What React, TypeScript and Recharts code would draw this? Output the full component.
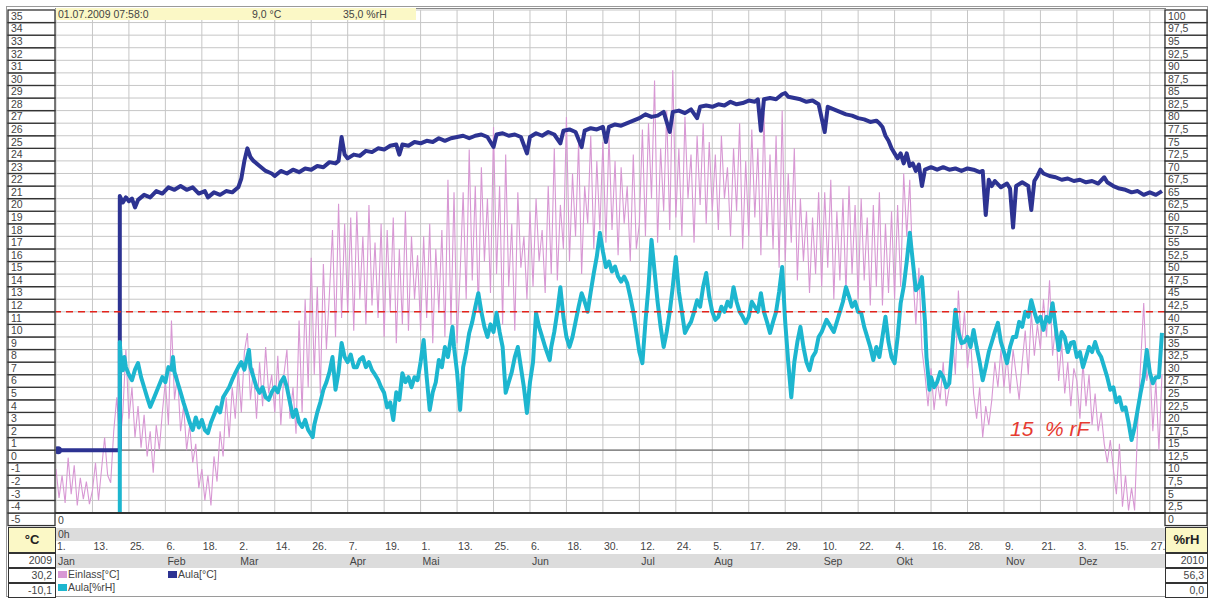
import React from "react"
import { ComposedChart, Line, XAxis, YAxis, CartesianGrid, ReferenceLine } from "recharts"

// x axis: day of year 2009 (0 = 1. Jan)
const tickDays = [0, 12, 24, 36, 48, 60, 72, 84, 96, 108, 120, 132, 144, 156, 168, 180, 192, 204, 216, 228, 240, 252, 264, 276, 288, 300, 312, 324, 336, 348, 360]
const tickDayLabels = ["1.", "13.", "25.", "6.", "18.", "2.", "14.", "26.", "7.", "19.", "1.", "13.", "25.", "6.", "18.", "30.", "12.", "24.", "5.", "17.", "29.", "10.", "22.", "4.", "16.", "28.", "9.", "21.", "3.", "15.", "27."]
const tickMonthLabels = ["Jan", "", "", "Feb", "", "Mar", "", "", "Apr", "", "Mai", "", "", "Jun", "", "", "Jul", "", "Aug", "", "", "Sep", "", "Okt", "", "", "Nov", "", "Dez", "", ""]

const tempTicks = [-5, -4, -3, -2, -1, 0, 1, 2, 3, 4, 5, 6, 7, 8, 9, 10, 11, 12, 13, 14, 15, 16, 17, 18, 19, 20, 21, 22, 23, 24, 25, 26, 27, 28, 29, 30, 31, 32, 33, 34, 35]
const humidityTicks = [0, 2.5, 5, 7.5, 10, 12.5, 15, 17.5, 20, 22.5, 25, 27.5, 30, 32.5, 35, 37.5, 40, 42.5, 45, 47.5, 50, 52.5, 55, 57.5, 60, 62.5, 65, 67.5, 70, 72.5, 75, 77.5, 80, 82.5, 85, 87.5, 90, 92.5, 95, 97.5, 100]

// Einlass [°C], one value per day
const einlassTemp = [
  -1.5, -3.8, -2.0, -4.2, -0.6, -3.5, -1.2, -4.4, -2.2, -3.9, -2.5, -4.3,
  -3.2, -1.0, -4.0, -1.5, 1.0, -2.0, -2.6, 1.5, 4.2, 0.5, 3.0, 8.0,
  2.5, 5.0, 1.0, 3.5, 0.2, 2.8, -0.5, 1.5, -1.8, 2.0, 0.0, 3.0,
  5.5, 2.0, 10.3, 4.0, 6.0, 1.5, 3.5, 0.0, 2.0, -1.0, 0.5, -3.0,
  -1.5, -4.0, -2.0, -4.4, -0.5, -2.5, 1.5, -0.5, 4.2, 1.0, 5.0, 2.5,
  6.5, 3.0, 7.8, 9.3, 4.0, 6.5, 2.5, 7.0, 3.5, 8.2, 4.5, 6.0,
  3.0, 7.5, 2.0, 6.0, 8.0, 2.5, 5.0, 1.3, 10.3, 3.0, 12.0, 5.0,
  15.3, 6.0, 13.0, 4.5, 14.8, 8.0, 12.5, 17.5, 9.0, 19.6, 10.5, 18.0,
  11.0, 18.5, 9.5, 19.0, 12.0, 17.0, 10.0, 19.5, 11.5, 16.5, 10.5, 18.0,
  9.0, 17.5, 11.0, 18.5, 8.5, 16.0, 10.0, 19.0, 9.5, 17.0, 12.0, 15.5,
  9.5, 17.0, 10.5, 18.0, 8.5, 16.0, 11.0, 17.5, 9.0, 21.5, 10.0, 20.5,
  8.5, 14.0, 20.5, 12.0, 23.9, 13.5, 21.0, 11.0, 22.5, 15.0, 20.0, 12.5,
  25.7, 14.0, 21.0, 10.0, 23.5, 13.0, 18.0, 9.5, 20.5, 14.5, 17.0, 12.0,
  19.0, 13.0, 20.0, 15.0, 17.5, 12.5, 21.0, 14.0, 24.0, 13.5, 19.5, 16.0,
  26.5, 15.0, 22.0, 17.0, 24.5, 14.0, 21.0, 18.0, 25.0, 16.0, 23.0, 17.5,
  24.5, 16.5, 25.0, 17.5, 23.0, 15.5, 22.5, 18.0, 21.0, 15.0, 23.5, 16.0,
  18.0, 25.5, 17.0, 26.0, 20.0, 29.4, 16.5, 24.0, 19.0, 27.0, 17.5, 30.2,
  18.5, 24.0, 17.0, 26.5, 20.0, 23.5, 16.5, 25.0, 19.5, 26.0, 18.0, 24.5,
  19.0, 23.5, 17.5, 25.0, 20.0, 22.5, 17.0, 24.0, 19.0, 26.0, 16.0, 23.0,
  17.0, 25.5, 18.5, 24.0, 15.5, 26.8, 17.0, 23.5, 16.0, 25.0, 14.5, 27.0,
  15.0, 22.0, 16.5, 24.0, 13.5, 20.0, 15.0, 19.0, 12.5, 18.5, 14.0, 20.5,
  13.0, 20.5, 14.5, 21.5, 12.0, 19.0, 13.5, 20.0, 12.5, 21.0, 14.0, 19.5,
  12.0, 20.0, 13.5, 18.5, 11.5, 19.5, 13.0, 20.5, 11.5, 18.0, 12.5, 19.0,
  12.0, 19.5, 13.0, 22.0, 17.0, 21.5, 14.0, 10.0, 14.5, 8.0, 6.0, 3.5,
  6.5, 3.2, 5.5, 4.0, 7.0, 3.5, 5.0, 9.5, 6.0, 12.7, 8.0, 11.0,
  6.5, 9.0, 4.5, 2.5, 5.0, 1.0, 3.5, 2.0, 4.0, 7.0, 5.0, 8.0,
  5.0, 7.5, 4.5, 8.0, 6.0, 4.0, 7.0, 9.5, 6.0, 11.0, 7.5, 10.0,
  8.0, 12.0, 9.0, 13.5, 7.5, 10.0, 5.5, 8.5, 4.5, 7.0, 3.5, 6.5,
  5.5, 2.5, 7.0, 3.5, 6.0, 2.0, 4.5, 1.5, 3.0, 0.5, -1.0, 0.8,
  -1.5, -3.5, 0.5, -4.5, -2.0, -4.8, -3.0, -4.8, 2.0, 7.0, 11.7, 5.5,
  7.0, 1.5, 5.5, 0.0, 6.0,
]

// Aula [°C] as [day, value]
const aulaTemp: [number, number][] = [
  [0, 0], [21, 0], [21, 20.2], [22, 19.7], [23, 20.1], [24, 19.8], [25, 20.0], [26, 19.3], [27, 19.9], [29, 20.3],
  [31, 20.1], [33, 20.6], [35, 20.4], [37, 20.9], [39, 20.7], [41, 21.0], [43, 20.7], [45, 20.9], [47, 20.4], [49, 20.6],
  [50, 20.1], [52, 20.5], [54, 20.3], [56, 20.6], [58, 20.5], [60, 20.9], [61, 21.6], [62, 23.0], [63, 24.0], [64, 23.3],
  [65, 23.0], [67, 22.6], [69, 22.2], [71, 22.0], [72, 21.8], [74, 22.2], [76, 22.0], [78, 22.3], [80, 22.1], [82, 22.4],
  [84, 22.3], [86, 22.6], [88, 22.5], [90, 22.9], [92, 22.8], [93, 23.0], [94, 24.9], [95, 23.5], [96, 23.2], [98, 23.5],
  [100, 23.4], [102, 23.8], [104, 23.7], [106, 24.0], [108, 23.9], [110, 24.2], [112, 24.3], [113, 23.5], [114, 24.3], [116, 24.2],
  [118, 24.5], [120, 24.4], [122, 24.6], [124, 24.5], [126, 24.8], [128, 24.6], [130, 24.8], [132, 24.9], [134, 25.0], [136, 24.8],
  [138, 25.0], [140, 25.1], [142, 24.9], [144, 24.1], [145, 25.1], [147, 25.2], [149, 25.0], [151, 25.1], [153, 24.9], [155, 23.6],
  [156, 24.9], [158, 25.2], [160, 25.0], [162, 25.3], [164, 25.1], [166, 24.4], [167, 25.4], [169, 25.5], [171, 25.3], [173, 24.1],
  [174, 25.4], [176, 25.6], [178, 25.5], [180, 25.7], [181, 24.5], [182, 25.7], [184, 25.9], [186, 25.8], [188, 26.0], [190, 26.2],
  [192, 26.4], [194, 26.7], [196, 26.5], [198, 26.6], [200, 26.9], [202, 25.3], [203, 26.9], [205, 27.0], [207, 26.8], [209, 27.1],
  [211, 26.4], [212, 27.3], [214, 27.4], [216, 27.3], [218, 27.5], [220, 27.4], [222, 27.7], [224, 27.5], [226, 27.6], [228, 27.8],
  [230, 27.7], [231, 27.9], [232, 25.4], [233, 27.9], [235, 28.0], [237, 27.9], [239, 28.3], [240, 28.4], [241, 28.1], [243, 28.0],
  [245, 27.9], [247, 27.7], [249, 27.8], [251, 27.5], [253, 25.3], [254, 27.3], [256, 27.1], [258, 26.9], [260, 26.7], [262, 26.6],
  [264, 26.4], [266, 26.3], [268, 26.1], [270, 26.2], [271, 26.0], [272, 25.7], [273, 25.0], [274, 24.6], [275, 24.0], [276, 23.6],
  [277, 23.2], [278, 23.6], [279, 22.8], [280, 23.6], [281, 22.6], [282, 22.8], [283, 22.2], [284, 22.7], [285, 21.0], [286, 22.3],
  [288, 22.5], [290, 22.3], [292, 22.5], [294, 22.3], [296, 22.4], [298, 22.2], [300, 22.4], [302, 22.3], [304, 22.1], [305, 22.2],
  [306, 18.7], [307, 21.5], [308, 21.0], [309, 21.4], [311, 20.9], [313, 21.2], [314, 20.8], [315, 17.7], [316, 21.0], [318, 21.3],
  [320, 21.0], [321, 19.1], [322, 21.4], [323, 21.8], [324, 22.3], [325, 22.0], [327, 21.8], [329, 21.7], [331, 21.5], [333, 21.6],
  [335, 21.4], [337, 21.5], [339, 21.3], [341, 21.4], [343, 21.2], [345, 21.7], [346, 21.3], [348, 21.0], [350, 20.8], [352, 20.7],
  [354, 20.5], [356, 20.6], [358, 20.3], [360, 20.5], [362, 20.3], [364, 20.6],
]

// Aula [%rH] as [day, value]
const aulaHumidity: [number, number][] = [
  [21, 0], [21, 34], [21.5, 29], [22, 28.4], [22.5, 31], [23, 29], [24, 27.5], [25, 26.4], [26, 28.5], [27, 29.8],
  [28, 27], [29, 25], [30, 23], [31, 21.1], [32, 22.5], [33, 24], [34, 25.5], [35, 27], [36, 26], [37, 29],
  [38, 28.5], [38.5, 31], [39, 28], [40, 26], [41, 24], [42, 21.9], [43, 20], [44, 18], [45, 16.5], [46, 19],
  [47, 17], [48, 18.5], [49, 16.5], [50, 15.9], [51, 18], [52, 19.5], [53, 21], [54, 20], [55, 23], [56, 24],
  [57, 25], [58, 26.5], [59, 27.8], [60, 29], [61, 30], [62, 28.5], [63.5, 32.4], [64, 29], [65, 27], [66, 25],
  [67, 23.9], [68, 25], [69, 23], [70, 22.5], [71, 24], [72, 25], [73, 24], [74, 26], [75, 27], [76, 25],
  [77, 22], [78, 19.1], [79, 20.5], [80, 18], [81, 17.1], [82, 18.5], [83, 16.5], [84.5, 15.1], [85, 17.5], [86, 20],
  [87, 22], [88, 24.5], [89, 26], [90, 28], [91, 31], [92, 24.5], [93, 28], [94, 33.8], [95, 31], [96, 30],
  [97, 31.5], [98, 29], [99, 29], [100, 30.5], [101, 31], [102, 29], [103, 30], [104, 28.4], [105, 27.5], [106, 26.5],
  [107, 25], [108, 23.9], [109, 21], [110, 22], [111, 18.5], [112, 24], [113, 22.5], [114, 27.8], [115, 26], [116, 27],
  [117, 25], [118, 27], [119, 26.4], [120, 30], [121, 34.4], [122, 27], [123, 20.5], [124, 24], [125, 26], [126, 30.4],
  [127, 29], [128, 33], [129, 31], [130.5, 37], [131, 33], [132, 28], [133, 20.5], [134, 29], [135, 32], [136, 35.8],
  [137, 38], [138, 41], [139, 43.7], [140, 40], [141, 37], [142, 35], [143, 37.5], [144, 36], [145, 39.8], [146, 36],
  [147, 33], [148, 23.9], [149, 26], [150, 28], [151, 31], [152, 33], [153, 29], [154, 25], [155, 19.9], [156, 26],
  [157, 30], [158, 39.8], [159, 37], [160, 35], [161, 33], [162.5, 30.4], [163, 33], [164, 36], [165, 40], [166, 44.9],
  [167, 39], [168, 35], [169, 33], [170, 35], [171, 38], [172, 41], [173, 43.7], [174, 42], [175, 40], [176, 44],
  [177, 47.7], [178, 51], [179, 55.7], [180, 52], [181, 48.9], [182, 50], [183, 48], [184, 49], [185, 47], [186, 46],
  [187, 47], [188, 45.7], [189, 43], [190, 40], [191, 36], [192, 32], [193, 29.8], [194, 38], [195, 45], [196, 54.3],
  [197, 48], [198, 42], [199, 37], [200, 33], [201, 36], [202, 40], [203, 45], [204, 50.9], [205, 44], [206, 40],
  [207, 35.8], [208, 37], [209, 38], [210, 40], [211, 42.3], [212, 41], [213, 45], [214, 47.7], [215, 43], [216, 40],
  [217, 38.4], [218, 39], [219, 41], [220, 40], [221, 42], [222, 41], [223, 44.9], [224, 42], [225, 40], [226, 39],
  [227, 37.8], [228, 39], [229, 42], [230, 41], [231, 40], [232, 43.7], [233, 40], [234, 38], [235, 35.8], [236, 38],
  [237, 40], [238, 44], [239, 48.9], [240, 38], [241, 30], [242, 23], [243, 30], [244, 34], [245, 37], [246, 33],
  [247, 30], [248, 28.4], [249, 31], [250, 32], [251, 35], [252, 36], [253.6, 38.4], [255, 37], [256, 36], [257, 38],
  [258, 40], [259, 42], [260, 44.9], [261, 43], [262, 41], [263, 42], [264, 40], [265, 39.8], [266, 37], [267, 35],
  [268, 33], [269, 30.4], [270, 33], [271, 31], [272, 35], [273, 39], [274, 34], [275, 31], [276, 29.8], [277, 35],
  [278, 41.7], [279, 45], [280, 50], [281, 55.7], [282, 50], [283, 44.3], [284, 45], [285, 46.9], [286, 38], [286.5, 31],
  [287.5, 24.5], [288, 27], [289, 25], [290, 26], [291, 28], [292, 27], [293, 25], [294, 25.8], [295, 33], [296, 40.4],
  [297, 36], [298, 33.8], [299, 34], [300, 35], [301, 33], [302, 36.4], [303, 33], [304, 30], [305, 26.4], [306, 29],
  [307, 32], [308, 34], [309, 36], [310, 37.8], [311, 34], [312, 32], [313, 29.8], [314, 33], [315, 35], [316, 35],
  [317, 38], [318, 37], [319, 40], [320, 39], [321, 42.3], [322, 40], [323, 38], [324, 39], [325, 36.4], [326, 39],
  [327, 38], [328, 41.7], [329, 37], [330, 32.4], [331, 36], [332, 35], [333, 32], [334, 33.8], [335, 34], [336, 31],
  [337, 32], [338, 29], [339, 31], [340, 33], [341, 32], [342, 34], [343, 32], [344, 31], [345, 29], [346, 27],
  [347, 24.5], [348, 25], [349, 22], [350, 23], [351, 20.5], [352, 21], [353, 18], [354, 14.5], [355, 17], [356, 20.5],
  [357, 24], [358, 27], [359, 32.4], [360, 28], [361, 25.8], [362, 27], [363, 27], [364, 35.8],
]

const humidityLimit = 40

const einlassData = einlassTemp.map((t, i) => ({ day: i, t }))
const aulaTempData = aulaTemp.map(([day, t]) => ({ day, t }))
const aulaHumidityData = aulaHumidity.map(([day, rh]) => ({ day, rh }))

const W = 1210
const H = 598
const PLOT_L = 56
const PLOT_R = 1165
const PLOT_T = 10
const PLOT_B = 513
const ROW = (PLOT_B - PLOT_T) / 40
const FONT = "'Liberation Sans', Arial, sans-serif"

const PINK = "#d898d4"
const NAVY = "#2d3392"
const CYAN = "#1db6cf"

const fmt = (v: number) => String(v).replace(".", ",")

function LeftTick(props: any) {
  const { y, payload } = props
  return (
    <g>
      <rect x={8} y={y} width={PLOT_L - 9} height={ROW} fill="#fff" stroke="#333" strokeWidth={1.3} />
      <text x={11} y={y + ROW / 2 + 3.5} fontSize={10.5} fill="#444" fontFamily={FONT}>
        {payload.value}
      </text>
    </g>
  )
}

function RightTick(props: any) {
  const { y, payload } = props
  return (
    <g>
      <rect x={PLOT_R} y={y} width={W - PLOT_R - 3} height={ROW} fill="#fff" stroke="#333" strokeWidth={1.3} />
      <text x={PLOT_R + 3} y={y + ROW / 2 + 3.5} fontSize={10.5} fill="#444" fontFamily={FONT}>
        {fmt(payload.value)}
      </text>
    </g>
  )
}

function DateTick(props: any) {
  const { x, payload } = props
  const i = tickDays.indexOf(payload.value)
  return (
    <g fontFamily={FONT} fontSize={10.5} fill="#444">
      <text x={x + 1} y={PLOT_B + 37}>{tickDayLabels[i]}</text>
      <text x={x + 2} y={PLOT_B + 52}>{tickMonthLabels[i]}</text>
    </g>
  )
}

function StartDot(props: any) {
  if (props.index !== 0) return <g key={props.index} />
  return <circle key="start" cx={props.cx + 2} cy={props.cy} r={4} fill={NAVY} />
}

const box = (top: number, h: number, left: number, w: number, extra: any = {}) => ({
  position: "absolute" as const,
  top,
  left,
  width: w,
  height: h,
  boxSizing: "border-box" as const,
  border: "1.3px solid #333",
  background: "#fff",
  fontFamily: FONT,
  fontSize: 10.5,
  color: "#444",
  textAlign: "right" as const,
  paddingRight: 3,
  lineHeight: `${h - 2}px`,
  ...extra,
})

export default function App() {
  return (
    <div style={{ position: "absolute", left: 0, top: 0, width: W, height: H, background: "#fff", overflow: "hidden" }}>
      {/* frame */}
      <div style={{ position: "absolute", left: 6, top: 6, width: W - 8, height: H - 7, border: "1px solid #9a9a9a", boxSizing: "border-box" }} />
      {/* bands under the plot */}
      <div style={{ position: "absolute", left: PLOT_L, top: 528, width: PLOT_R - PLOT_L, height: 13, background: "#dcdcdc" }} />
      <div style={{ position: "absolute", left: PLOT_L, top: 554, width: PLOT_R - PLOT_L, height: 14, background: "#dcdcdc" }} />

      <ComposedChart
        width={W}
        height={H}
        margin={{ top: PLOT_T, right: 0, bottom: H - PLOT_B - 40, left: 8 }}
        style={{ position: "absolute", left: 0, top: 0 }}
      >
        <CartesianGrid yAxisId="t" stroke="#c6c6c6" strokeWidth={1} />
        <XAxis
          dataKey="day"
          type="number"
          domain={[0, 365]}
          ticks={tickDays}
          interval={0}
          tickLine={false}
          axisLine={false}
          height={40}
          tick={<DateTick />}
          allowDataOverflow
        />
        <YAxis
          yAxisId="t"
          orientation="left"
          type="number"
          domain={[-5, 35]}
          ticks={tempTicks}
          interval={0}
          width={48}
          tickLine={false}
          axisLine={false}
          tick={<LeftTick />}
          allowDataOverflow
        />
        <YAxis
          yAxisId="rh"
          orientation="right"
          type="number"
          domain={[0, 100]}
          ticks={humidityTicks}
          interval={0}
          width={45}
          tickLine={false}
          axisLine={false}
          tick={<RightTick />}
          allowDataOverflow
        />
        <ReferenceLine yAxisId="t" y={0} stroke="#707070" strokeWidth={1.2} />
        <Line
          data={einlassData}
          dataKey="t"
          yAxisId="t"
          type="linear"
          stroke={PINK}
          strokeWidth={1.1}
          dot={false}
          isAnimationActive={false}
        />
        <Line
          data={aulaTempData}
          dataKey="t"
          yAxisId="t"
          type="linear"
          stroke={NAVY}
          strokeWidth={4}
          strokeLinejoin="round"
          dot={<StartDot />}
          isAnimationActive={false}
        />
        <Line
          data={aulaHumidityData}
          dataKey="rh"
          yAxisId="rh"
          type="linear"
          stroke={CYAN}
          strokeWidth={4}
          strokeLinejoin="round"
          dot={false}
          isAnimationActive={false}
        />
        <ReferenceLine yAxisId="rh" y={humidityLimit} stroke="#e3241c" strokeWidth={1.5} strokeDasharray="7 5" />
      </ComposedChart>

      {/* plot frame lines */}
      <div style={{ position: "absolute", left: PLOT_L - 1, top: PLOT_B - 1, width: PLOT_R - PLOT_L + 2, height: 2, background: "#333" }} />
      <div style={{ position: "absolute", left: PLOT_L - 1, top: PLOT_T - 2, width: PLOT_R - PLOT_L + 2, height: 1, background: "#888" }} />

      {/* header */}
      <div
        style={{
          position: "absolute",
          left: PLOT_L,
          top: 8,
          width: 360,
          height: 12,
          background: "#fbf8c6",
          fontFamily: FONT,
          fontSize: 10.5,
          color: "#444",
          lineHeight: "12px",
        }}
      >
        <span style={{ position: "absolute", left: 2 }}>01.07.2009 07:58:0</span>
        <span style={{ position: "absolute", left: 196 }}>9,0 °C</span>
        <span style={{ position: "absolute", left: 287 }}>35,0 %rH</span>
      </div>

      {/* strip texts */}
      <div style={{ position: "absolute", left: PLOT_L + 2, top: 514, fontFamily: FONT, fontSize: 10.5, color: "#444", lineHeight: "13px" }}>0</div>
      <div style={{ position: "absolute", left: PLOT_L + 2, top: 528, fontFamily: FONT, fontSize: 10.5, color: "#444", lineHeight: "13px" }}>0h</div>

      {/* left info boxes */}
      <div style={box(527, 26, 8, PLOT_L - 8, { background: "#fbf8c6", textAlign: "center", paddingRight: 0, fontWeight: "bold", fontSize: 13, color: "#222" })}>°C</div>
      <div style={box(553, 15, 8, PLOT_L - 8)}>2009</div>
      <div style={box(568, 15, 8, PLOT_L - 8)}>30,2</div>
      <div style={box(583, 15, 8, PLOT_L - 8)}>-10,1</div>

      {/* right info boxes */}
      <div style={box(527, 26, PLOT_R, W - PLOT_R - 2, { background: "#fbf8c6", textAlign: "center", paddingRight: 0, fontWeight: "bold", fontSize: 13, color: "#222" })}>%rH</div>
      <div style={box(553, 15, PLOT_R, W - PLOT_R - 2)}>2010</div>
      <div style={box(568, 15, PLOT_R, W - PLOT_R - 2)}>56,3</div>
      <div style={box(583, 15, PLOT_R, W - PLOT_R - 2)}>0,0</div>

      {/* legend */}
      <div style={{ position: "absolute", left: 58, top: 568, fontFamily: FONT, fontSize: 10.5, color: "#444", lineHeight: "13px" }}>
        <div style={{ position: "absolute", left: 0, top: 0, whiteSpace: "nowrap" }}>
          <span style={{ display: "inline-block", width: 9, height: 7, background: PINK, marginRight: 1 }} />Einlass[°C]
        </div>
        <div style={{ position: "absolute", left: 110, top: 0, whiteSpace: "nowrap" }}>
          <span style={{ display: "inline-block", width: 9, height: 7, background: NAVY, marginRight: 1 }} />Aula[°C]
        </div>
        <div style={{ position: "absolute", left: 0, top: 13, whiteSpace: "nowrap" }}>
          <span style={{ display: "inline-block", width: 9, height: 7, background: CYAN, marginRight: 1 }} />Aula[%rH]
        </div>
      </div>

      {/* annotation */}
      <div
        style={{
          position: "absolute",
          left: 1010,
          top: 417,
          fontFamily: "'Liberation Sans', Arial, sans-serif",
          fontStyle: "italic",
          fontSize: 21,
          color: "#e63a30",
          whiteSpace: "pre",
          lineHeight: "24px",
        }}
      >
        15  % rF
      </div>
    </div>
  )
}
